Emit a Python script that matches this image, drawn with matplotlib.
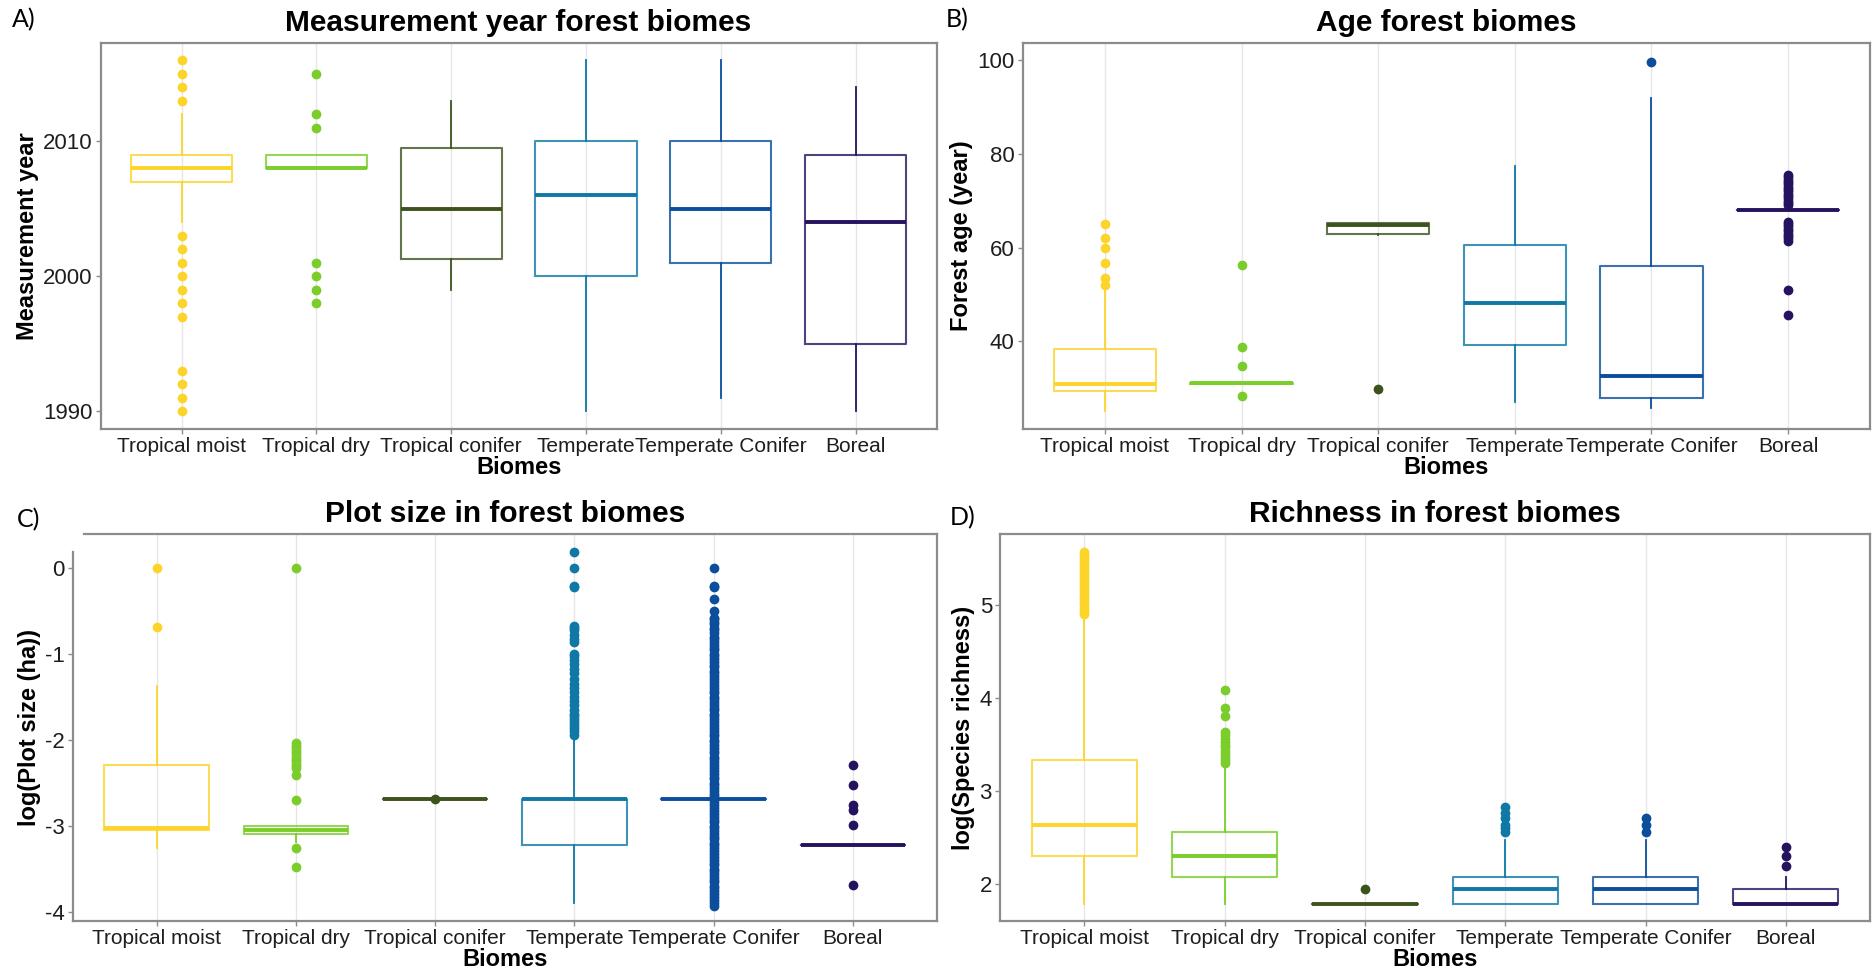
import matplotlib
matplotlib.use("Agg")
import matplotlib.pyplot as plt

plt.rcParams["font.family"] = ["Liberation Sans", "DejaVu Sans"]
plt.rcParams["axes.unicode_minus"] = False

biomes = ["Tropical moist", "Tropical dry", "Tropical conifer",
          "Temperate", "Temperate Conifer", "Boreal"]
colors = ["#FDD42A", "#7ACD2A", "#3D531E", "#0F78A6", "#0B4E9B", "#25135F"]

# --- A) measurement year ---
year_q1 = [2007, 2008, 2001.3, 2000, 2001, 1995]
year_med = [2008, 2008, 2005, 2006, 2005, 2004]
year_q3 = [2009, 2009, 2009.5, 2010, 2010, 2009]
year_lo = [2004, 2008, 1999, 1990, 1991, 1990]
year_hi = [2012, 2009, 2013, 2016, 2016, 2014]
year_out = [
    [2016, 2015, 2014, 2013, 2003, 2002, 2001, 2000, 1999, 1998, 1997,
     1993, 1992, 1991, 1990],
    [2015, 2012, 2011, 2001, 2000, 1999, 1998],
    [], [], [], [],
]

# --- B) forest age ---
age_q1 = [29.4, 30.9, 63.0, 39.2, 27.8, 68.0]
age_med = [30.9, 31.0, 64.8, 48.1, 32.6, 68.0]
age_q3 = [38.3, 31.1, 65.2, 60.5, 56.1, 68.0]
age_lo = [25.0, 30.9, 62.7, 27.1, 25.7, 68.0]
age_hi = [51.0, 31.1, 65.2, 77.4, 91.9, 68.0]
age_out = [
    [52.0, 53.6, 56.8, 60.0, 62.1, 65.0],
    [56.3, 38.7, 34.8, 28.4],
    [29.7],
    [],
    [99.7],
    [75.5, 75.0, 74.5, 74.0, 73.5, 73.0, 72.5, 72.0, 71.5, 71.0, 70.5,
     70.0, 69.5, 69.0, 65.5, 65.0, 64.5, 64.0, 63.5, 63.0, 62.5, 62.0,
     61.5, 51.0, 45.7],
]

# --- C) log plot size ---
size_q1 = [-3.05, -3.10, -2.69, -3.22, -2.69, -3.22]
size_med = [-3.03, -3.05, -2.69, -2.69, -2.69, -3.22]
size_q3 = [-2.30, -3.00, -2.69, -2.69, -2.69, -3.22]
size_lo = [-3.26, -3.19, -2.69, -3.90, -2.69, -3.22]
size_hi = [-1.38, -3.00, -2.69, -1.92, -2.69, -3.22]
size_out = [
    [0.0, -0.69],
    [0.0, -2.04, -2.07, -2.10, -2.13, -2.16, -2.19, -2.22, -2.25, -2.28,
     -2.31, -2.33, -2.41, -2.70, -3.26, -3.48],
    [-2.69],
    [0.18, 0.0, -0.21, -0.23, -0.68, -0.70, -0.72, -0.78, -0.83, -0.86,
     -1.00, -1.03, -1.07, -1.12, -1.18, -1.22, -1.30, -1.35, -1.40, -1.45,
     -1.50, -1.55, -1.60, -1.65, -1.70, -1.73, -1.76, -1.80, -1.83, -1.86,
     -1.90, -1.94],
    [0.0, -0.21, -0.23, -0.36, -0.50, -0.58, -0.60, -0.63, -0.66, -0.70,
     -0.73, -0.76, -0.80, -0.83, -0.86, -0.90, -0.93, -0.96, -1.00, -1.03,
     -1.06, -1.10, -1.13, -1.16, -1.20, -1.23, -1.26, -1.30, -1.33, -1.36,
     -1.40, -1.43, -1.46, -1.50, -1.53, -1.56, -1.60, -1.63, -1.66, -1.70,
     -1.73, -1.76, -1.80, -1.83, -1.86, -1.90, -1.93, -1.96, -2.00, -2.03,
     -2.06, -2.10, -2.13, -2.16, -2.20, -2.23, -2.26, -2.30, -2.33, -2.36,
     -2.40, -2.43, -2.46, -2.50, -2.53, -2.56, -2.60, -2.63, -2.66, -2.72,
     -2.76, -2.80, -2.83, -2.86, -2.90, -2.93, -2.96, -3.00, -3.03, -3.06,
     -3.10, -3.13, -3.16, -3.20, -3.23, -3.26, -3.30, -3.33, -3.36, -3.40,
     -3.43, -3.46, -3.50, -3.53, -3.56, -3.60, -3.63, -3.66, -3.70, -3.73,
     -3.76, -3.80, -3.83, -3.86, -3.90, -3.93],
    [-2.30, -2.53, -2.76, -2.82, -2.99, -3.69],
]

# --- D) log species richness ---
rich_q1 = [2.30, 2.08, 1.79, 1.79, 1.79, 1.79]
rich_med = [2.64, 2.30, 1.79, 1.95, 1.95, 1.79]
rich_q3 = [3.33, 2.56, 1.79, 2.08, 2.08, 1.95]
rich_lo = [1.79, 1.79, 1.79, 1.79, 1.79, 1.79]
rich_hi = [4.87, 3.26, 1.79, 2.48, 2.48, 2.08]
rich_out = [
    [4.90, 4.93, 4.96, 5.00, 5.03, 5.06, 5.09, 5.12, 5.15, 5.18, 5.21,
     5.24, 5.27, 5.30, 5.33, 5.36, 5.39, 5.42, 5.45, 5.48, 5.51, 5.54, 5.57],
    [3.30, 3.33, 3.37, 3.40, 3.43, 3.47, 3.50, 3.53, 3.56, 3.60, 3.64,
     3.81, 3.89, 4.09],
    [1.95],
    [2.56, 2.60, 2.64, 2.71, 2.77, 2.83],
    [2.56, 2.64, 2.71],
    [2.20, 2.30, 2.40],
]

panels = [
    dict(letter="A)", title="Measurement year forest biomes", ylabel="Measurement year",
         q1=year_q1, med=year_med, q3=year_q3, lo=year_lo, hi=year_hi, out=year_out,
         ylim=(1988.7, 2017.3), yticks=[1990, 2000, 2010],
         rect=[100.7, 42.7, 936.5, 429.0], letter_xy=(12, 20)),
    dict(letter="B)", title="Age forest biomes", ylabel="Forest age (year)",
         q1=age_q1, med=age_med, q3=age_q3, lo=age_lo, hi=age_hi, out=age_out,
         ylim=(21.25, 103.75), yticks=[40, 60, 80, 100],
         rect=[1023.0, 42.7, 1870.0, 429.0], letter_xy=(946, 20)),
    dict(letter="C)", title="Plot size in forest biomes", ylabel="log(Plot size (ha))",
         q1=size_q1, med=size_med, q3=size_q3, lo=size_lo, hi=size_hi, out=size_out,
         ylim=(-4.105, 0.392), yticks=[0, -1, -2, -3, -4],
         rect=[73.0, 534.0, 936.5, 920.7], letter_xy=(17, 520)),
    dict(letter="D)", title="Richness in forest biomes", ylabel="log(Species richness)",
         q1=rich_q1, med=rich_med, q3=rich_q3, lo=rich_lo, hi=rich_hi, out=rich_out,
         ylim=(1.605, 5.76), yticks=[2, 3, 4, 5],
         rect=[1000.3, 534.3, 1870.0, 921.0], letter_xy=(950, 518)),
]

W, H = 1872, 976
fig = plt.figure(figsize=(W / 100, H / 100), dpi=100)
border = "#8C8C8C"

axes = []
for p in panels:
    x0, y0, x1, y1 = p["rect"]
    ax = fig.add_axes([x0 / W, 1 - y1 / H, (x1 - x0) / W, (y1 - y0) / H])
    axes.append(ax)
    for i, c in enumerate(colors):
        stats = [dict(med=p["med"][i], q1=p["q1"][i], q3=p["q3"][i],
                      whislo=p["lo"][i], whishi=p["hi"][i], fliers=p["out"][i])]
        ax.bxp(stats, positions=[i + 1], widths=0.75, showcaps=False,
               boxprops=dict(color=c, linewidth=1.5, alpha=0.8),
               whiskerprops=dict(color=c, linewidth=1.3),
               medianprops=dict(color=c, linewidth=2.8, solid_capstyle="butt"),
               flierprops=dict(marker="o", markerfacecolor=c, markeredgecolor=c,
                               markersize=6, linestyle="none"))
    ax.set_xlim(0.4, 6.6)
    ax.set_ylim(*p["ylim"])
    ax.set_xticks(range(1, 7))
    ax.set_xticklabels(biomes, fontsize=15)
    ax.set_yticks(p["yticks"])
    ax.set_yticklabels([str(v) for v in p["yticks"]], fontsize=16)
    ax.set_axisbelow(True)
    ax.grid(axis="x", color="#E6E6E6", linewidth=1.0)
    ax.grid(axis="y", visible=False)
    for s in ax.spines.values():
        s.set_color(border)
        s.set_linewidth(1.6)
    ax.tick_params(axis="both", length=3.5, width=1.0, color=border,
                   labelcolor="#1E1E1E", pad=2.5)
    ax.set_xlabel("Biomes", fontsize=17, fontweight="bold", labelpad=0)
    ax.set_ylabel(p["ylabel"], fontsize=17, fontweight="bold", labelpad=3)
    ax.set_title(p["title"], fontsize=21.5, fontweight="bold", pad=8.5)
    lx, ly = p["letter_xy"]
    fig.text(lx / W, 1 - ly / H, p["letter"], fontsize=18, ha="left", va="center",
             family=["Lato", "DejaVu Sans"])

# panel C frame: top border starts a little right of the y axis, y axis stops short of it
ax_c = axes[2]
ax_c.spines["top"].set_bounds(0.48, 6.6)
ax_c.spines["left"].set_bounds(-4.105, 0.186)

fig.savefig("out.png", dpi=100)
